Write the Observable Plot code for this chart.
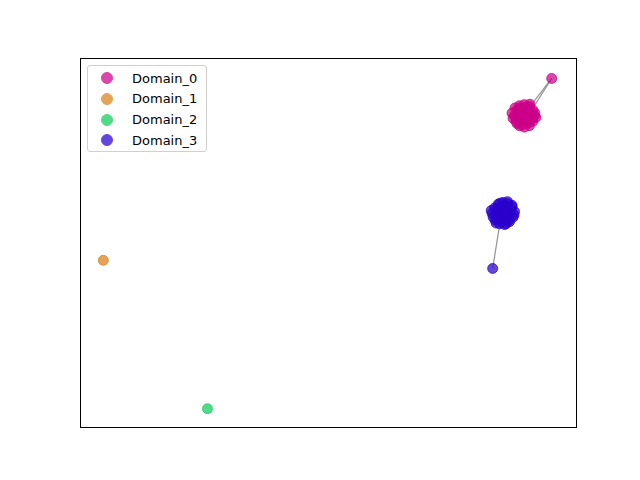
<!DOCTYPE html>
<html><head><meta charset="utf-8">
<script src="https://cdn.jsdelivr.net/npm/d3@7"></script>
<script src="https://cdn.jsdelivr.net/npm/@observablehq/plot@0.6"></script>
<style>
body{margin:0;background:#fff;font-family:"DejaVu Sans",sans-serif;}
#wrap{position:relative;width:640px;height:480px;}
#legend{position:absolute;left:87px;top:65px;width:118px;height:85px;border:1px solid #d0d0d0;border-radius:3px;background:rgba(255,255,255,0.8);font-size:13px;color:#000;}
.row{position:absolute;left:0;height:20px;display:flex;align-items:center;}
.sw{position:absolute;left:13px;width:10px;height:10px;border-radius:50%;}
.lb{position:absolute;left:44px;white-space:nowrap;}
</style></head>
<body><div id="wrap"><div id="chart"></div><div id="legend"></div></div>
<script>
const domains = ["Domain_0","Domain_1","Domain_2","Domain_3"];
const colors = ["#cc0088","#d98018","#10cc5a","#2a00cc"];

const d0X = [8.75,8.80,8.85,8.95,9.05,9.12,9.15,9.12,9.05,8.95,8.85,8.78,8.90,9.00,8.92,8.85,9.00,9.08,8.72,9.16,8.98,8.82,8.88,9.02,8.94,8.76,8.86,9.10,9.18,8.96,9.04,8.90,8.70,9.06,8.80,9.50];
const d0Y = [8.45,8.60,8.72,8.75,8.70,8.60,8.45,8.30,8.18,8.14,8.18,8.30,8.45,8.50,8.60,8.40,8.35,8.48,8.38,8.52,8.25,8.52,8.28,8.62,8.36,8.66,8.66,8.38,8.40,8.68,8.26,8.20,8.52,8.76,8.24,9.46];
const d1X = [0.46];
const d1Y = [4.53];
const d2X = [2.56];
const d2Y = [0.51];
const d3X = [8.30,8.35,8.42,8.52,8.62,8.70,8.75,8.72,8.65,8.55,8.45,8.36,8.50,8.58,8.44,8.40,8.60,8.52,8.66,8.48,8.32,8.56,8.68,8.40,8.50,8.28,8.46,8.64,8.74,8.38,8.58,8.54,8.42,8.70,8.61,8.31];
const d3Y = [5.80,5.95,6.05,6.10,6.06,5.98,5.85,5.70,5.58,5.50,5.52,5.62,5.80,5.88,5.86,5.72,5.70,5.65,5.78,5.96,5.70,6.00,5.90,5.92,5.58,5.88,6.08,5.62,5.76,5.54,5.52,5.90,5.64,6.02,6.12,4.31];

const linkX1 = [9.50,9.50,8.31];
const linkY1 = [9.46,9.46,4.31];
const linkX2 = [9.03,9.09,8.47];
const linkY2 = [8.64,8.59,5.66];

const seriesX = [d0X,d1X,d2X,d3X];
const seriesY = [d0Y,d1Y,d2Y,d3Y];
const points = [];
domains.forEach((d,i)=>seriesX[i].forEach((x,j)=>points.push({domain:d,x,y:seriesY[i][j],c:colors[i]})));
const links = linkX1.map((x1,i)=>({x1,y1:linkY1[i],x2:linkX2[i],y2:linkY2[i]}));

const chart = Plot.plot({
  width:640,height:480,
  marginLeft:80,marginRight:64,marginTop:58,marginBottom:53,
  style:{background:"#fff"},
  x:{domain:[0,10],axis:null},
  y:{domain:[0,10],axis:null},
  marks:[
    Plot.link(links,{x1:"x1",y1:"y1",x2:"x2",y2:"y2",stroke:"#808080",strokeWidth:1.2,strokeOpacity:0.85}),
    Plot.dot(points,{x:"x",y:"y",r:5,fill:d=>d.c,fillOpacity:0.72,stroke:d=>d.c,strokeOpacity:0.72,strokeWidth:1}),
    Plot.frame({stroke:"black",strokeWidth:1})
  ]
});
document.getElementById("chart").appendChild(chart);

const lg = document.getElementById("legend");
domains.forEach((d,i)=>{
  const row = document.createElement("div");
  row.className="row"; row.style.top=(2+i*20.8)+"px"; row.style.width="118px";
  row.innerHTML=`<span class="sw" style="background:${colors[i]};opacity:0.72;border:1px solid ${colors[i]};"></span><span class="lb">${d}</span>`;
  lg.appendChild(row);
});
</script></body></html>
